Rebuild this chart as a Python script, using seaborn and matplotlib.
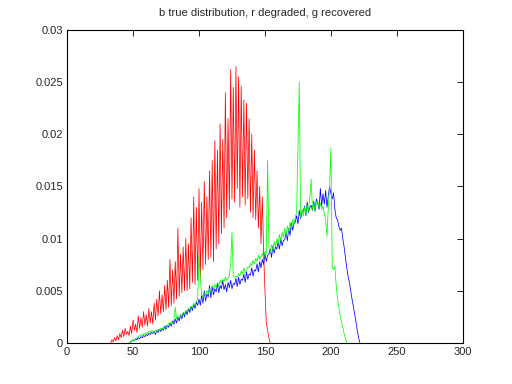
import numpy as np
import pandas as pd
import matplotlib as mpl
mpl.use('Agg')
import matplotlib.pyplot as plt
import seaborn as sns

# histogram values, in units of 1e-4, one per integer bin
red_start = 33
red_vals = [0, 3, 1, 5, 2, 7, 3,
            9, 5, 12, 6, 14, 8, 11, 7, 16, 9,
            22, 12, 18, 10, 26, 14, 24, 15, 30, 17,
            27, 16, 33, 19, 30, 18, 38, 22, 42, 26,
            50, 28, 46, 30, 55, 32, 60, 34, 80, 36,
            70, 38, 78, 42, 110, 45, 85, 48, 92, 50,
            100, 50, 95, 52, 120, 58, 140, 56, 130, 60,
            148, 62, 135, 70, 155, 75, 140, 80, 165, 82,
            175, 78, 194, 90, 185, 95, 210, 105, 195, 110,
            240, 120, 215, 128, 262, 138, 245, 135, 265, 148,
            255, 130, 246, 140, 233, 132, 230, 138, 215, 125,
            200, 120, 185, 118, 165, 110, 150, 95, 140, 85,
            50, 20, 12, 5, 0]

blue_start = 47
blue_vals = [0, 1, 2,
             3, 2, 4, 3, 5, 4, 6, 5, 7, 6,
             8, 7, 9, 8, 10, 9, 11, 8, 12, 10,
             13, 11, 14, 12, 16, 13, 17, 15, 19, 16,
             21, 18, 23, 19, 25, 21, 27, 23, 29, 25,
             31, 27, 33, 29, 35, 31, 37, 33, 39, 36,
             42, 36, 46, 38, 50, 40, 47, 44, 55, 43,
             54, 46, 52, 49, 57, 48, 55, 52, 60, 51,
             56, 49, 58, 53, 60, 52, 57, 56, 62, 54,
             63, 56, 61, 60, 66, 58, 68, 61, 66, 65,
             72, 64, 70, 69, 76, 68, 78, 72, 80, 75,
             86, 78, 84, 85, 90, 82, 93, 86, 92, 90,
             97, 90, 100, 93, 98, 99, 106, 98, 110, 103,
             115, 108, 114, 116, 122, 114, 127, 119, 125, 126,
             131, 122, 135, 125, 130, 132, 127, 136, 126, 138,
             134, 128, 148, 131, 143, 133, 146, 130, 141, 150,
             143, 138, 144, 128, 120, 118, 112, 108, 110, 100,
             92, 82, 72, 64, 58, 50, 42, 35, 28, 20,
             12, 5, 0]

green_start = 47
green_vals = [0, 1, 1,
              3, 2, 4, 5, 6, 7, 8, 7, 9, 8,
              10, 9, 11, 10, 12, 11, 10, 12, 11, 13,
              12, 14, 13, 15, 14, 17, 16, 19, 18, 20,
              19, 22, 34, 23, 25, 24, 27, 26, 29, 28,
              31, 30, 33, 32, 35, 34, 38, 36, 40, 42,
              84, 62, 46, 44, 48, 46, 50, 47, 52, 49,
              55, 51, 56, 53, 58, 55, 60, 57, 61, 59,
              63, 60, 62, 64, 75, 106, 64, 63, 64, 63,
              66, 64, 69, 66, 72, 67, 70, 73, 72, 76,
              74, 79, 76, 81, 78, 84, 80, 83, 86, 82,
              88, 86, 175, 92, 87, 94, 89, 97, 92, 100,
              95, 104, 98, 106, 101, 110, 103, 112, 107, 116,
              109, 118, 113, 121, 125, 185, 250, 120, 128, 122,
              130, 123, 132, 126, 140, 157, 128, 134, 126, 136,
              135, 130, 134, 128, 131, 124, 118, 102, 130, 150,
              187, 72, 70, 73, 55, 42, 34, 26, 20, 15,
              9, 4, 0]

title = 'b true distribution, r degraded, g recovered'
xticks = [0, 50, 100, 150, 200, 250, 300]
yticks = [0, 0.005, 0.01, 0.015, 0.02, 0.025, 0.03]
ytick_labels = ['0', '0.005', '0.01', '0.015', '0.02', '0.025', '0.03']


def series(start, vals, name):
    return pd.DataFrame({'bin': np.arange(start, start + len(vals)),
                         'p': np.array(vals) * 1e-4, 'curve': name})


df = pd.concat([series(blue_start, blue_vals, 'b'),
                series(red_start, red_vals, 'r'),
                series(green_start, green_vals, 'g')], ignore_index=True)

sns.set_style('white')
plt.rcParams['font.family'] = ['Liberation Sans', 'DejaVu Sans']
plt.rcParams['xtick.direction'] = 'in'
plt.rcParams['ytick.direction'] = 'in'

fig = plt.figure(figsize=(5.12, 3.84), dpi=100)
ax = fig.add_axes([0.131, 0.107, 0.773, 0.815])

sns.lineplot(data=df, x='bin', y='p', hue='curve',
             palette={'b': '#0000ff', 'r': '#ff0000', 'g': '#00ff00'},
             linewidth=0.55, legend=False, ax=ax)

ax.set_xlim(0, 300)
ax.set_ylim(0, 0.03)
ax.set_xticks(xticks)
ax.set_yticks(yticks)
ax.set_yticklabels(ytick_labels)
ax.set_xlabel('')
ax.set_ylabel('')
ax.tick_params(labelsize=8, length=4, width=0.6, color='black',
               top=True, right=True, pad=3)
for s in ax.spines.values():
    s.set_color('black')
    s.set_linewidth(0.8)
ax.set_title(title, fontsize=8, pad=10)

fig.savefig('out.png', dpi=100)
